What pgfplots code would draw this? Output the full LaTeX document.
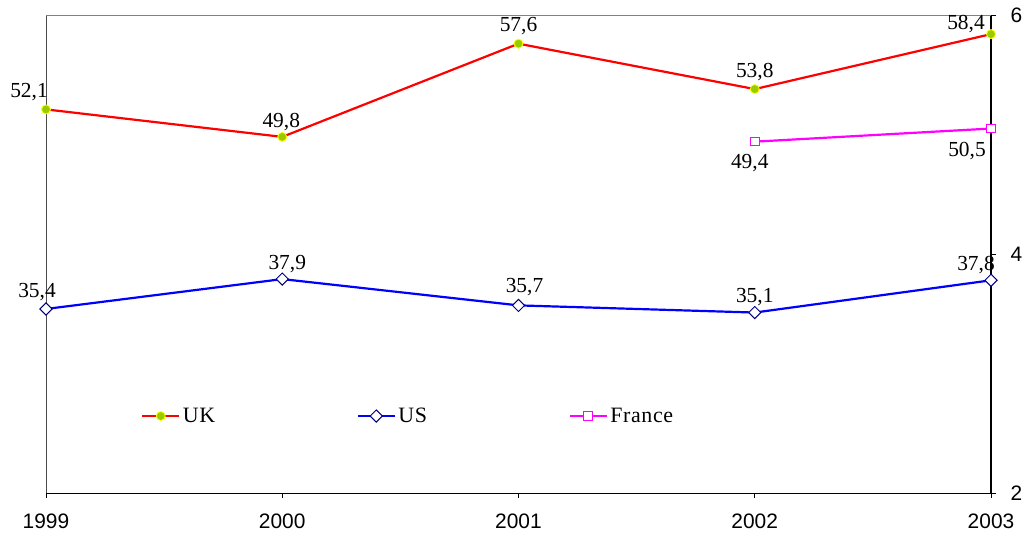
\documentclass[border=0pt]{standalone}
\usepackage{fontspec}
\setmainfont{Liberation Serif}
\newfontfamily\arialfont{Liberation Sans}
\usepackage{pgfplots}
\pgfplotsset{compat=1.18}
\definecolor{ukfill}{HTML}{99CC00}
\definecolor{navyd}{HTML}{000080}
\definecolor{magd}{HTML}{FF00FF}
\definecolor{redd}{HTML}{FF0000}
\definecolor{blued}{HTML}{0000FF}
\definecolor{yellowd}{HTML}{FFFF00}
\begin{document}
\begin{tikzpicture}
\begin{axis}[
  name=ax, at={(0,0)}, anchor=south west,
  scale only axis, width=945bp, height=478bp,
  xmin=1999, xmax=2003, ymin=20, ymax=60,
  clip=false,
  axis x line*=bottom, axis y line*=right,
  x axis line style={black, line width=1bp},
  y axis line style={black, line width=1.4bp},
  xtick={1999,2000,2001,2002,2003},
  xticklabels={1999,2000,2001,2002,2003},
  ytick={20,40,60}, yticklabels={2,4,6},
  tick align=outside, major tick length=5bp,
  tick style={black, line width=0.8bp},
  ticklabel style={font=\arialfont\fontsize{21}{25}\selectfont},
  xticklabel style={yshift=-12bp},
  yticklabel style={xshift=11bp},
  legend columns=3,
  legend style={at={(rel axis cs:0.1005,0.161)}, anchor=west, draw=none, fill=none,
    inner sep=0pt,
    font=\addfontfeature{LetterSpace=3}\fontsize{22}{24}\selectfont,
    nodes={inner sep=2.5bp},
    /tikz/every even column/.append style={column sep=139bp}},
  legend image code/.code={\draw[mark repeat=2,mark phase=2] plot coordinates {(0bp,0bp)(18.5bp,0bp)(37bp,0bp)};},
]
\draw[gray!60!black, line width=0.8bp] (rel axis cs:0,0) -- (rel axis cs:0,1);
\draw[gray, line width=0.8bp] (rel axis cs:0,1) -- (rel axis cs:1,1);
\addplot[redd, line width=2.2bp, mark=*, mark size=4.5bp,
  mark options={fill=ukfill, draw=yellowd, line width=0.8bp}]
  coordinates {(1999,52.1) (2000,49.8) (2001,57.6) (2002,53.8) (2003,58.4)};
\addplot[blued, line width=2.2bp, mark=square*, mark size=4.3bp,
  mark options={rotate=45, fill=white, draw=navyd, line width=1bp}]
  coordinates {(1999,35.4) (2000,37.9) (2001,35.7) (2002,35.1) (2003,37.8)};
\addplot[magd, line width=2.2bp, mark=square*, mark size=4.3bp,
  mark options={fill=white, draw=magd, line width=1bp}]
  coordinates {(2002,49.4) (2003,50.5)};
\legend{UK,US,France}
\begin{scope}[every node/.style={font=\fontsize{21.5}{24}\selectfont, inner sep=0pt, text depth=0pt}]
\node[xshift=-17bp, yshift=19bp] at (axis cs:1999,52.1) {52,1};
\node[xshift=-1bp, yshift=16.5bp] at (axis cs:2000,49.8) {49,8};
\node[yshift=19.3bp] at (axis cs:2001,57.6) {57,6};
\node[yshift=19bp] at (axis cs:2002,53.8) {53,8};
\node[xshift=-25bp, yshift=12bp] at (axis cs:2003,58.4) {58,4};
\node[xshift=-9bp, yshift=19bp] at (axis cs:1999,35.4) {35,4};
\node[xshift=5bp, yshift=17bp] at (axis cs:2000,37.9) {37,9};
\node[xshift=6bp, yshift=20bp] at (axis cs:2001,35.7) {35,7};
\node[yshift=17bp] at (axis cs:2002,35.1) {35,1};
\node[xshift=-15bp, yshift=17bp] at (axis cs:2003,37.8) {37,8};
\node[xshift=-5bp, yshift=-19.5bp] at (axis cs:2002,49.4) {49,4};
\node[xshift=-24bp, yshift=-21bp] at (axis cs:2003,50.5) {50,5};
\end{scope}
\end{axis}
\pgfresetboundingbox
\path[use as bounding box] (-46bp,-44bp) rectangle (978bp,493bp);
\end{tikzpicture}
\end{document}
